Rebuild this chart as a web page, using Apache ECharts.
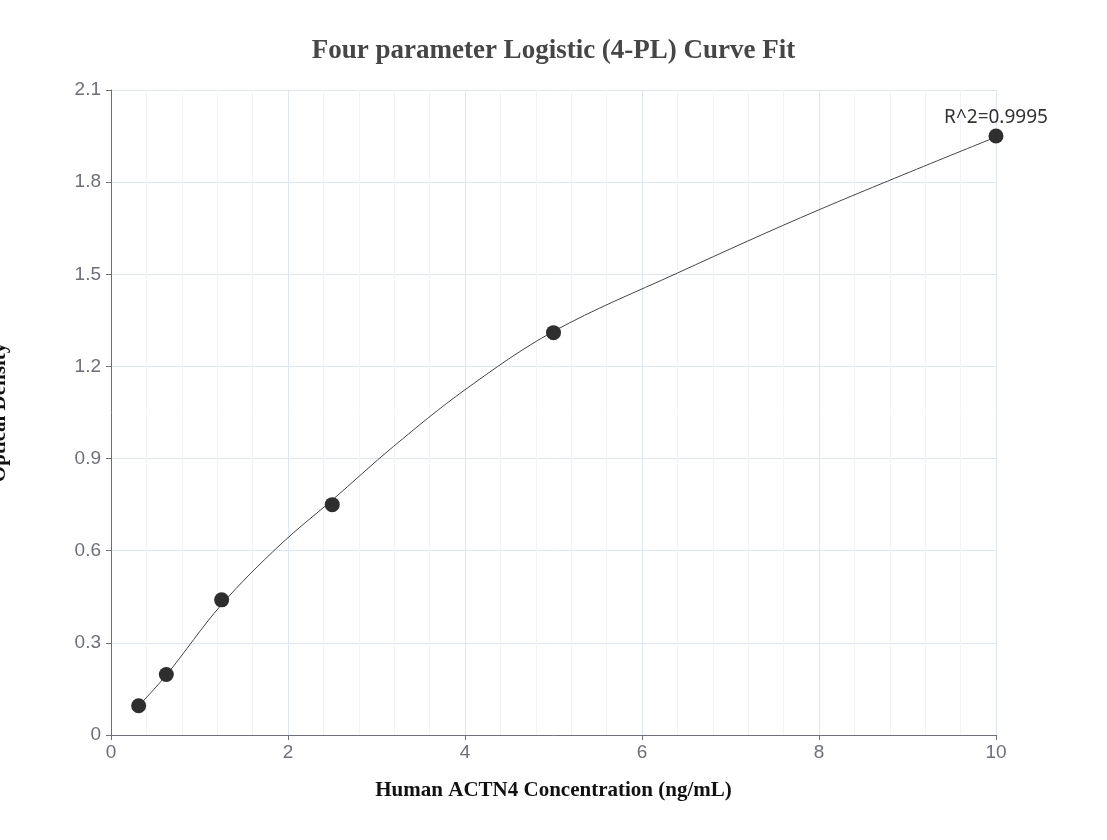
<!DOCTYPE html>
<html>
<head>
<meta charset="utf-8">
<script src="https://cdn.jsdelivr.net/npm/echarts@6/dist/echarts.min.js"></script>
<style>html,body{margin:0;padding:0;background:#fff}#chart{width:1107px;height:840px}</style>
</head>
<body>
<div id="chart"></div>
<script>
// Standard points (concentration, OD)
var pointX = [0.3125, 0.625, 1.25, 2.5, 5, 10];
var pointY = [0.095, 0.197, 0.44, 0.75, 1.31, 1.95];
// Fitted curve
var curveX = [0.3125, 0.625, 1.25, 1.91, 2.5, 3.19, 4.0, 5.0, 6.4, 8.0, 10];
var curveY = [0.095, 0.195, 0.425, 0.619, 0.765, 0.939, 1.124, 1.314, 1.504, 1.71, 1.947];
var r2Label = 'R^2=0.9995';

var chart = echarts.init(document.getElementById('chart'));
var pts = pointX.map(function (x, i) { return [x, pointY[i]]; });
var crv = curveX.map(function (x, i) { return [x, curveY[i]]; });
pts[pts.length - 1] = {
  value: pts[pts.length - 1],
  label: { show: true, position: 'top', formatter: r2Label, color: '#333', fontSize: 19, distance: 1, fontFamily: 'Noto Sans' }
};
chart.setOption({
  animation: false,
  title: {
    text: 'Four parameter Logistic (4-PL) Curve Fit',
    left: 'center', top: 33,
    textStyle: { fontFamily: 'Liberation Serif', fontSize: 27, fontWeight: 'bold', color: '#464646' }
  },
  grid: { left: 111, right: 111, top: 90, bottom: 105, containLabel: false, outerBoundsMode: 'none' },
  xAxis: {
    type: 'value', min: 0, max: 10, interval: 2,
    name: 'Human ACTN4 Concentration (ng/mL)', nameLocation: 'middle', nameGap: 45,
    nameTextStyle: { fontFamily: 'Liberation Serif', fontSize: 21, fontWeight: 'bold', color: '#111' },
    axisLine: { lineStyle: { color: '#6e7079' } },
    axisTick: { show: true, lineStyle: { color: '#6e7079' } },
    axisLabel: { color: '#6e7079', fontSize: 19, margin: 8 },
    splitLine: { show: true, lineStyle: { color: '#e0e6f1' } },
    minorTick: { show: false, splitNumber: 5 },
    minorSplitLine: { show: true, lineStyle: { color: '#f2f4fa' } }
  },
  yAxis: {
    type: 'value', min: 0, max: 2.1, interval: 0.3,
    name: 'Optical Density', nameLocation: 'middle', nameGap: 101,
    nameTextStyle: { fontFamily: 'Liberation Serif', fontSize: 21, fontWeight: 'bold', color: '#111' },
    axisLine: { show: true, lineStyle: { color: '#6e7079' } },
    axisTick: { show: true, lineStyle: { color: '#6e7079' } },
    axisLabel: { color: '#6e7079', fontSize: 19, margin: 10 },
    splitLine: { show: true, lineStyle: { color: '#e0e6f1' } }
  },
  series: [
    {
      type: 'line', data: crv, smooth: 0.35, showSymbol: false, symbol: 'none',
      lineStyle: { color: '#444', width: 1 }, z: 2
    },
    {
      type: 'scatter', data: pts, symbolSize: 15,
      itemStyle: { color: '#2e2e2e', opacity: 1 }, z: 3
    }
  ]
});
</script>
</body>
</html>
